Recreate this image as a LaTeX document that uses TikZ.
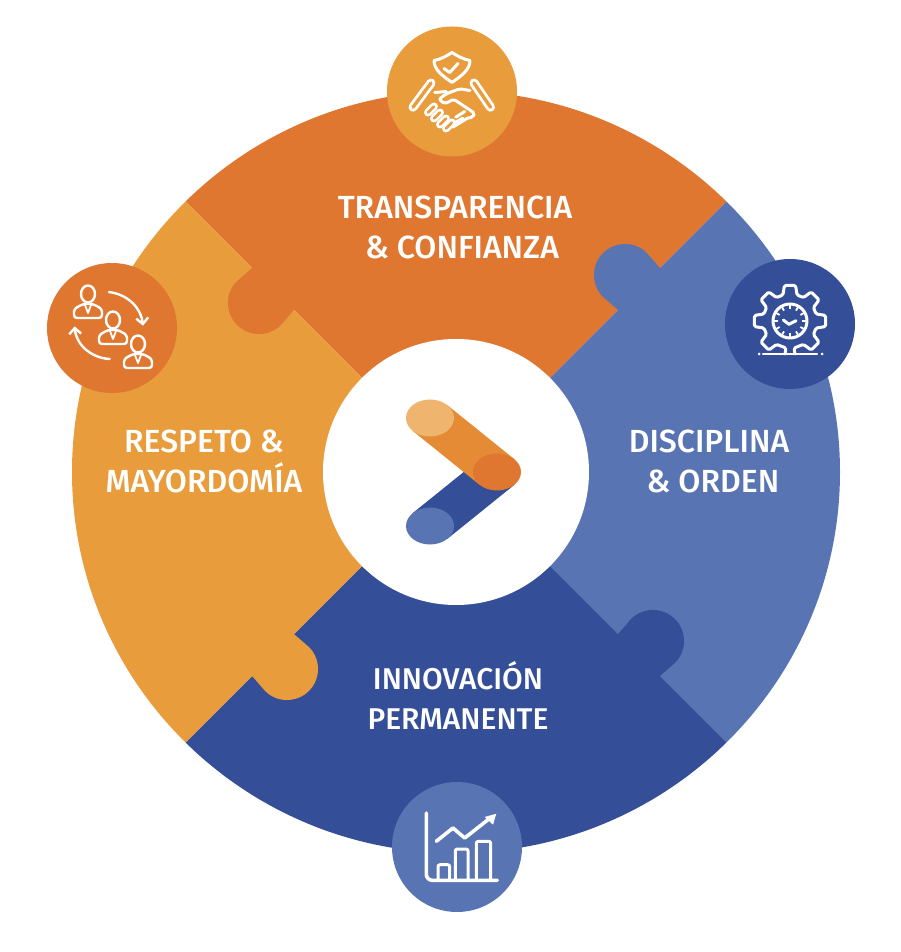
\documentclass[tikz,border=0pt]{standalone}
\usepackage{fontspec}
\setmainfont{Fira Sans Medium}
\usetikzlibrary{arrows.meta, calc}
\definecolor{deeporange}{HTML}{DF7731}
\definecolor{softorange}{HTML}{E89C3C}
\definecolor{deepblue}{HTML}{344E97}
\definecolor{softblue}{HTML}{5874B3}
\definecolor{bandorange}{HTML}{E58A35}
\definecolor{paleorange}{HTML}{EFB46E}
\tikzset{
  badge/.style={circle, minimum size=130pt, inner sep=0pt},
  title/.style={text=white, align=center, font=\fontsize{32}{40}\selectfont},
  icon/.style={draw=white, line width=3pt, line cap=round, line join=round},
  staff/.pic={
    \draw[icon, line width=2.4pt] (0,1) ellipse (7pt and 8.5pt);
    \draw[icon, line width=2.4pt, rounded corners=3pt] (-14,-23) -- (14,-23) -- (14,-14) -- (5,-9) -- (-5,-9) -- (-14,-14) -- cycle;
    \draw[icon, line width=1.8pt] (-3,-10) -- (0,-18) -- (3,-10);
  }
}
\begin{document}
\begin{tikzpicture}[x=1pt, y=1pt]
  \useasboundingbox (-456,-480) rectangle (444,472);
  % puzzle pieces
  \begin{scope}
    \clip (0,0) ellipse (384pt and 381pt);
    \foreach \ang/\col in {0/deeporange, -90/softblue, -180/deepblue, -270/softorange}
      \fill[\col, rotate=\ang] (0,0) -- (135:420) arc[start angle=135, end angle=45, radius=420] -- cycle;
  \end{scope}
  \foreach \ang/\col in {0/deeporange, -90/softblue, -180/deepblue, -270/softorange}
    \fill[\col, rotate=\ang, rounded corners=0.6pt] (-163,161) -- (-150,180) -- (-195,215) -- (-205,203) -- (-216.9,192.7) arc[start angle=130, end angle=315, radius=31] -- cycle;

  \node[circle, fill=white, minimum size=266pt, inner sep=0pt] (hub) at (0,0) {};

  % arrow logo
  \fill[deepblue] (-43.4,-41.2) -- (23.6,12.8) -- (58.4,-12.8) -- (-8.6,-66.8) -- cycle;
  \fill[bandorange] (-8.6,66.8) -- (58.4,12.8) -- (23.6,-12.8) -- (-43.4,41.2) -- cycle;
  \fill[paleorange] (-26,54) ellipse (24pt and 18.5pt);
  \fill[deeporange] (41,0) ellipse (24pt and 18.5pt);
  \fill[softblue] (-26,-54) ellipse (24pt and 18.5pt);

  \node[title] (trust) at (-1,245) {TRANSPARENCIA\\\hspace*{14pt}\& CONFIANZA};
  \node[title] (respect) at (-252,11) {RESPETO \&\\MAYORDOMÍA};
  \node[title] (order) at (253,11) {DISCIPLINA\\\hspace*{8pt}\& ORDEN};
  \node[title, font=\fontsize{30}{40}\selectfont] (innovation) at (2,-223) {INNOVACIÓN\\PERMANENTE};

  \node[badge, fill=softorange] (trustbadge) at (-4,380.5) {};
  \node[badge, fill=deeporange] (respectbadge) at (-344,144) {};
  \node[badge, fill=deepblue] (orderbadge) at (334,148) {};
  \node[badge, fill=softblue] (innovationbadge) at (1,-375) {};

  % handshake
  \begin{scope}[shift={(trustbadge.center)}]
    \draw[icon] (0,39) .. controls (-6,35) and (-12,32) .. (-18,31) .. controls (-18,22) and (-10,16) .. (0,9) .. controls (10,16) and (18,22) .. (18,31) .. controls (12,32) and (6,35) .. cycle;
    \draw[icon] (-8,23) -- (-2.3,19) -- (6,28);
    \draw[white, line width=9pt, line cap=round] (-21,8.5) -- (-39,-15.7);
    \draw[softorange, line width=3.4pt, line cap=round] (-21,8.5) -- (-39,-15.7);
    \draw[white, line width=9pt, line cap=round] (22,8.5) -- (38.5,-15.7);
    \draw[softorange, line width=3.4pt, line cap=round] (22,8.5) -- (38.5,-15.7);
    \draw[icon, rounded corners=2pt] (18,1) -- (7.7,2.7) -- (-5.7,-2.3) -- (-13,-7.7) -- (-7.3,-12.3) -- (1.7,-7.7) -- (22.7,-21.7) -- (21,-25.7) -- (15,-26.7);
    \draw[icon] (-17.3,-1) -- (-5.7,0);
    \foreach \px/\py in {-21/-18, -15/-24, -9/-30, -3/-34} {
      \draw[white, line width=8pt, line cap=round] (\px-3,\py-3) -- (\px+3,\py+3);
      \draw[softorange, line width=2.6pt, line cap=round] (\px-3,\py-3) -- (\px+3,\py+3);
    }
    \draw[icon] (0.7,-35.7) -- (15,-27);
    \draw[icon] (3.7,-25.7) -- (12.7,-20);
    \draw[icon] (1.7,-31.7) -- (11,-26.7);
  \end{scope}

  % people in rotation
  \begin{scope}[shift={(respectbadge.center)}]
    \pic at (-24,33) {staff};
    \pic at (1,7) {staff};
    \pic at (26,-17) {staff};
    \draw[icon, line width=2.4pt, -{Straight Barb[length=6pt, width=12pt]}] (-3,36) .. controls (17.7,33.3) and (29.3,18.3) .. (31,2.3);
    \draw[icon, line width=2.4pt, -{Straight Barb[length=6pt, width=12pt]}] (-2.3,-31) .. controls (-22.3,-30) and (-36.3,-15) .. (-37.3,1.7);
  \end{scope}

  % gear with clock
  \begin{scope}[shift={($(orderbadge.center)+(0,3)$)}]
    \draw[icon, rounded corners=1.5pt] (5,-33) -- (4,-27)
      \foreach \a in {-45,0,45,90,135,180,225} { -- (\a-15:27) -- (\a-9:36) -- (\a+9:36) -- (\a+15:27) }
      -- (-4,-27) -- (-5,-33);
    \draw[icon] (0,0) circle (17pt);
    \foreach \a in {0,30,...,330}
      \draw[white, line width=1.8pt] (\a:12) -- (\a:16);
    \draw[icon] (-6.7,1) -- (-1,-3.3) -- (6,0.3);
    \draw[icon, line width=2.4pt] (-27,-33) -- (27,-33);
    \fill[white] (-31,-33) circle (1.5pt) (32,-33) circle (1.5pt);
  \end{scope}

  % rising chart
  \begin{scope}[shift={(innovationbadge.center)}]
    \draw[icon, line width=3.6pt, rounded corners=6pt] (-30.7,34) -- (-30.7,-33.3) -- (40.3,-33.3);
    \draw[icon, rounded corners=2pt] (-19,-33.3) -- (-19,-17.7) -- (-7.3,-17.7) -- (-7.3,-33.3);
    \draw[icon, rounded corners=2pt] (-1.7,-33.3) -- (-1.7,-2) -- (11,-2) -- (11,-33.3);
    \draw[icon, rounded corners=2pt] (19.3,-33.3) -- (19.3,5.7) -- (33.7,5.7) -- (33.7,-33.3);
    \draw[icon, line width=3.6pt] (-20.7,5.7) -- (-4,19) -- (7.7,9) -- (31,27.3);
    \fill[white] (39.3,33.3) -- (27.7,30) -- (36,22.3) -- cycle;
  \end{scope}
\end{tikzpicture}
\end{document}
